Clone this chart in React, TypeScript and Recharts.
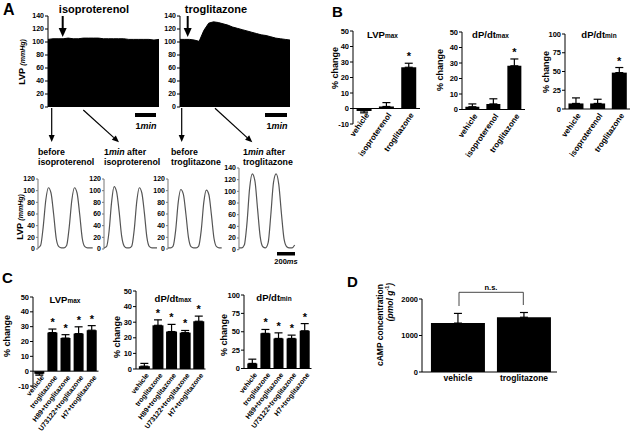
import React from "react";
import {
  AreaChart,
  Area,
  LineChart,
  Line,
  ComposedChart,
  Bar,
  ErrorBar,
  Scatter,
  XAxis,
  YAxis,
  ReferenceLine,
} from "recharts";

// ---- panel A: compressed LVP traces (upper envelope, mmHg)
const isoEnvelope = [104, 105, 105, 105, 106, 105, 105, 106, 106, 106, 106, 105, 105, 105, 105, 105, 104, 104, 104, 104, 104, 103, 104];
const trogEnvelope = [104, 104, 104, 103, 101, 118, 129, 131, 130, 128, 126, 123, 121, 119, 117, 115, 113, 111, 110, 108, 106, 105, 104, 103];

// ---- panel A: single beats (mmHg)
const beatsBeforeIso = [2, 6, 38, 84, 105, 96, 60, 18, 4, 2, 2, 6, 38, 84, 105, 96, 60, 18, 4, 2, 2, 2];
const beatsAfterIso = [2, 4, 30, 80, 107, 98, 64, 22, 5, 2, 2, 5, 34, 82, 105, 96, 62, 20, 4, 2, 2, 2];
const beatsBeforeTrog = [2, 2, 5, 32, 80, 102, 94, 60, 20, 4, 2, 2, 5, 32, 80, 101, 93, 58, 18, 4, 2, 2];
const beatsAfterTrog = [3, 3, 8, 45, 105, 130, 118, 70, 22, 5, 3, 12, 60, 115, 130, 112, 62, 18, 5, 3, 3, 8];

// ---- panel B
const bCats = ["vehicle", "isoproterenol", "troglitazone"];
const bSig = [false, false, true];
const bLvpMean = [-1.6, 1.3, 26.6];
const bLvpSem = [1.2, 2.5, 2.6];
const bDpMaxMean = [1.8, 3.6, 28.2];
const bDpMaxSem = [1.8, 3.3, 4.4];
const bDpMinMean = [7.4, 7.4, 48.5];
const bDpMinSem = [7.4, 5.6, 6.8];

// ---- panel C
const cCats = ["vehicle", "troglitazone", "H89+troglitazone", "U73122+troglitazone", "H7+troglitazone"];
const cSig = [false, true, true, true, true];
const cLvpMean = [-1.7, 26.0, 22.3, 25.3, 27.6];
const cLvpSem = [1.0, 2.4, 2.3, 4.6, 3.1];
const cDpMaxMean = [1.8, 28.0, 24.0, 23.3, 30.6];
const cDpMaxSem = [1.8, 3.5, 4.6, 1.4, 3.3];
const cDpMinMean = [6.9, 47.8, 40.9, 40.9, 51.3];
const cDpMinSem = [5.8, 5.3, 7.6, 4.5, 9.8];

// ---- panel D
const dCats = ["vehicle", "troglitazone"];
const dMean = [1340, 1500];
const dSem = [265, 130];

const FONT = '"Liberation Sans", Arial, Helvetica, sans-serif';
const YW = 30;
const PAD = 4;

function box(x0: number, y0: number, x1: number, y1: number, below: number) {
  return {
    style: { position: "absolute" as const, left: x0 - YW, top: y0 - PAD },
    width: YW + (x1 - x0) + PAD,
    height: PAD + (y1 - y0) + below,
  };
}

const tickFont = { fontSize: 7.5, fontWeight: 700, fill: "#000" };

// y tick drawn by hand so the colour stays black
function YTick(props: any) {
  const { x, y, payload, size } = props;
  return (
    <text x={x} y={y} dy="0.35em" textAnchor="end" fontSize={size ?? 7} fontWeight={700} fill="#000" stroke="none">
      {payload.value}
    </text>
  );
}

function TopTrace({ env, x0, x1 }: { env: number[]; x0: number; x1: number }) {
  const b = box(x0, 16, x1, 107, 2);
  const data = env.map((v, i) => ({ i, v }));
  return (
    <div style={b.style}>
      <AreaChart width={b.width} height={b.height} data={data} margin={{ top: PAD, right: PAD, left: 0, bottom: 2 }}>
        <XAxis dataKey="i" type="number" domain={[0, env.length - 1]} hide />
        <YAxis
          width={YW}
          domain={[0, 140]}
          ticks={[0, 20, 40, 60, 80, 100, 120, 140]}
          interval={0}
          allowDataOverflow
          stroke="#000"
          tickSize={3}
          tickMargin={1}
          axisLine={{ stroke: "#000" }}
          tickLine={{ stroke: "#000" }}
          tick={(p: any) => <YTick {...p} size={7} />}
        />
        <Area type="linear" dataKey="v" stroke="#000" fill="#000" fillOpacity={1} isAnimationActive={false} />
      </AreaChart>
    </div>
  );
}

function Beats({ vals, x0, x1, y0, y1, max }: { vals: number[]; x0: number; x1: number; y0: number; y1: number; max: number }) {
  const b = box(x0, y0, x1, y1, 2);
  const data = vals.map((v, i) => ({ i, v }));
  const ticks = [];
  for (let t = 0; t <= max; t += 20) ticks.push(t);
  return (
    <div style={b.style}>
      <LineChart width={b.width} height={b.height} data={data} margin={{ top: PAD, right: PAD, left: 0, bottom: 2 }}>
        <XAxis dataKey="i" type="number" domain={[0, vals.length - 1]} hide />
        <YAxis
          width={YW}
          domain={[0, max]}
          ticks={ticks}
          interval={0}
          allowDataOverflow
          stroke="#000"
          tickSize={2}
          tickMargin={1}
          axisLine={{ stroke: "#777" }}
          tickLine={{ stroke: "#777" }}
          tick={(p: any) => <YTick {...p} size={7} />}
        />
        <Line type="monotone" dataKey="v" stroke="#555" strokeWidth={1.2} dot={false} isAnimationActive={false} />
      </LineChart>
    </div>
  );
}

function SlantTick(props: any) {
  const { x, y, payload, lift, size, angle } = props;
  const tx = x + 3;
  const ty = y - lift + 5;
  return (
    <text x={tx} y={ty} dy="0.35em" transform={`rotate(${angle}, ${tx}, ${ty})`} textAnchor="end" fontSize={size} fontWeight={700} fill="#000">
      {payload.value}
    </text>
  );
}

function Star(p: any) {
  if (!p.payload || p.payload.star == null) return <g />;
  return (
    <text x={p.cx} y={p.cy - 3} textAnchor="middle" fontSize={11} fontWeight={700} fill="#000">
      *
    </text>
  );
}

type BarSpec = {
  cats: string[];
  mean: number[];
  sem: number[];
  sig: boolean[];
  x0: number;
  y0: number;
  x1: number;
  y1: number;
  domain: [number, number];
  ticks: number[];
  gap: string;
  size: number;
  angle: number;
  padLeft?: number;
};

function BarPanel(s: BarSpec) {
  const data = s.cats.map((name, i) => ({
    name,
    v: s.mean[i],
    err: s.mean[i] < 0 ? [s.sem[i], 0] : [0, s.sem[i]],
    star: s.sig[i] ? s.mean[i] + s.sem[i] : null,
  }));
  const below = 62;
  const b = box(s.x0, s.y0, s.x1, s.y1, below);
  const lift = ((0 - s.domain[0]) / (s.domain[1] - s.domain[0])) * (s.y1 - s.y0);
  return (
    <div style={b.style}>
      <ComposedChart width={b.width} height={b.height} data={data} barCategoryGap={s.gap} margin={{ top: PAD, right: PAD, left: 0, bottom: 0 }}>
        <XAxis
          dataKey="name"
          type="category"
          height={below}
          interval={0}
          axisLine={false}
          tickLine={false}
          tickSize={0}
          tickMargin={0}
          padding={{ left: s.padLeft ?? 0, right: 0 }}
          tick={(p: any) => <SlantTick {...p} lift={lift} size={s.size} angle={s.angle} />}
        />
        <YAxis
          width={YW}
          domain={s.domain}
          ticks={s.ticks}
          interval={0}
          allowDataOverflow
          stroke="#000"
          tickSize={3}
          tickMargin={1}
          axisLine={{ stroke: "#000" }}
          tickLine={{ stroke: "#000" }}
          tick={(p: any) => <YTick {...p} size={7.5} />}
        />
        <ReferenceLine y={0} stroke="#000" strokeWidth={1} />
        <Bar dataKey="v" fill="#000" isAnimationActive={false}>
          <ErrorBar dataKey="err" direction="y" width={4} stroke="#000" strokeWidth={1.2} isAnimationActive={false} />
        </Bar>
        <Scatter dataKey="star" shape={Star} isAnimationActive={false} />
      </ComposedChart>
    </div>
  );
}

function DTick(props: any) {
  const { x, y, payload } = props;
  return (
    <text x={x} y={y + 3} dy="0.71em" textAnchor="middle" fontSize={8.5} fontWeight={700} fill="#000">
      {payload.value}
    </text>
  );
}

function DPanel() {
  const data = dCats.map((name, i) => ({ name, v: dMean[i], err: [0, dSem[i]] }));
  const b = box(422, 299, 557, 372, 20);
  return (
    <div style={b.style}>
      <ComposedChart width={b.width} height={b.height} data={data} barCategoryGap="9%" margin={{ top: PAD, right: PAD, left: 0, bottom: 0 }}>
        <XAxis
          dataKey="name"
          height={20}
          interval={0}
          axisLine={{ stroke: "#000" }}
          tickLine={false}
          tickSize={0}
          tickMargin={0}
          padding={{ left: 3, right: 0 }}
          tick={DTick}
        />
        <YAxis
          width={YW}
          domain={[0, 2000]}
          ticks={[0, 1000, 2000]}
          interval={0}
          allowDataOverflow
          stroke="#000"
          tickSize={3}
          tickMargin={1}
          axisLine={{ stroke: "#000" }}
          tickLine={{ stroke: "#000" }}
          tick={(p: any) => <YTick {...p} size={7.5} />}
        />
        <Bar dataKey="v" fill="#000" isAnimationActive={false}>
          <ErrorBar dataKey="err" direction="y" width={4} stroke="#000" strokeWidth={1.2} isAnimationActive={false} />
        </Bar>
      </ComposedChart>
    </div>
  );
}

function Arrow({ x1, y1, x2, y2, w = 1.2, hl = 7, hw = 3 }: any) {
  const a = Math.atan2(y2 - y1, x2 - x1);
  const bx = x2 - hl * Math.cos(a);
  const by = y2 - hl * Math.sin(a);
  const px = -Math.sin(a) * hw;
  const py = Math.cos(a) * hw;
  return (
    <g>
      <line x1={x1} y1={y1} x2={bx} y2={by} stroke="#000" strokeWidth={w} />
      <polygon points={`${x2},${y2} ${bx + px},${by + py} ${bx - px},${by - py}`} fill="#000" />
    </g>
  );
}

function VLabel({ x, y, children, size = 9 }: any) {
  return (
    <text transform={`translate(${x},${y}) rotate(-90)`} textAnchor="middle" dominantBaseline="central" fontSize={size} fontWeight={700} fill="#000">
      {children}
    </text>
  );
}

function Title({ x, y, main, sub }: { x: number; y: number; main: string; sub: string }) {
  return (
    <text x={x} y={y} textAnchor="middle" fontSize={9.5} fontWeight={700} fill="#000">
      {main}
      <tspan fontSize={6.5}>{sub}</tspan>
    </text>
  );
}

function Overlay() {
  const t = { fontSize: 8.8, fontWeight: 700, fill: "#000" } as const;
  return (
    <svg width={640} height={438} style={{ position: "absolute", left: 0, top: 0, pointerEvents: "none" }}>
      {/* panel letters */}
      <text x={3} y={15} fontSize={16} fontWeight={700}>A</text>
      <text x={332} y={17} fontSize={15} fontWeight={700}>B</text>
      <text x={2} y={283} fontSize={15} fontWeight={700}>C</text>
      <text x={347} y={287} fontSize={15} fontWeight={700}>D</text>

      {/* panel A headings and arrows */}
      <text x={94} y={12.5} textAnchor="middle" fontSize={11} fontWeight={700}>isoproterenol</text>
      <text x={216} y={12.5} textAnchor="middle" fontSize={11} fontWeight={700}>troglitazone</text>
      <Arrow x1={62.7} y1={16} x2={62.7} y2={37} w={2} hl={9} hw={4} />
      <Arrow x1={187.7} y1={16} x2={187.7} y2={37} w={2} hl={9} hw={4} />
      <VLabel x={22} y={62}>
        LVP <tspan fontSize={7} fontStyle="italic">(mmHg)</tspan>
      </VLabel>

      <rect x={135} y={113} width={21} height={4} fill="#000" />
      <text x={146} y={129} textAnchor="middle" fontSize={9} fontWeight={700}>
        1<tspan fontStyle="italic">min</tspan>
      </text>
      <rect x={265} y={113} width={22} height={4} fill="#000" />
      <text x={277} y={129} textAnchor="middle" fontSize={9} fontWeight={700}>
        1<tspan fontStyle="italic">min</tspan>
      </text>

      <Arrow x1={51.7} y1={108} x2={51.7} y2={142} />
      <Arrow x1={83.3} y1={110} x2={119} y2={142.3} />
      <Arrow x1={181.7} y1={108} x2={181.7} y2={142} />
      <Arrow x1={215} y1={108.3} x2={252.3} y2={142.3} />

      <text x={38} y={155} {...t}>before</text>
      <text x={38} y={165} {...t}>isoproterenol</text>
      <text x={104} y={155} {...t}>1<tspan fontStyle="italic">min</tspan> after</text>
      <text x={104} y={165} {...t}>isoproterenol</text>
      <text x={171} y={155} {...t}>before</text>
      <text x={171} y={165} {...t}>troglitazone</text>
      <text x={243} y={155} {...t}>1<tspan fontStyle="italic">min</tspan> after</text>
      <text x={243} y={165} {...t}>troglitazone</text>

      <VLabel x={20} y={217}>
        LVP <tspan fontSize={7} fontStyle="italic">(mmHg)</tspan>
      </VLabel>
      <rect x={277} y={252} width={18} height={3.5} fill="#000" />
      <text x={286} y={264} textAnchor="middle" fontSize={7.5} fontWeight={700}>
        200<tspan fontStyle="italic">ms</tspan>
      </text>

      {/* panel B */}
      <Title x={382.5} y={38} main="LVP" sub="max" />
      <Title x={490.5} y={38} main="dP/dt" sub="max" />
      <Title x={599} y={38} main="dP/dt" sub="min" />
      <VLabel x={335} y={68}>% change</VLabel>
      <VLabel x={440} y={70}>% change</VLabel>
      <VLabel x={546} y={72}>% change</VLabel>

      {/* panel C */}
      <Title x={65} y={303} main="LVP" sub="max" />
      <Title x={173} y={302} main="dP/dt" sub="max" />
      <Title x={274} y={301} main="dP/dt" sub="min" />
      <VLabel x={7} y={336}>% change</VLabel>
      <VLabel x={117} y={337}>% change</VLabel>
      <VLabel x={224} y={335}>% change</VLabel>

      {/* panel D */}
      <VLabel x={380} y={325} size={8.5}>cAMP concentration</VLabel>
      <VLabel x={390} y={302} size={8.5}>
        <tspan fontStyle="italic">(pmol g</tspan>
        <tspan fontSize={5.5} dy={-3}>-1</tspan>
        <tspan fontStyle="italic" dy={3}>)</tspan>
      </VLabel>
      <path d="M459 306 V292.3 H523.3 V305" fill="none" stroke="#333" strokeWidth={0.9} />
      <text x={491} y={289.5} textAnchor="middle" fontSize={7.5} fontWeight={700}>n.s.</text>
    </svg>
  );
}

export default function App() {
  const slope = -55;
  return (
    <div
      style={{
        position: "absolute",
        left: 0,
        top: 0,
        width: 640,
        height: 438,
        background: "#fff",
        fontFamily: FONT,
        overflow: "hidden",
      }}
    >
      <TopTrace env={isoEnvelope} x0={48} x1={159} />
      <TopTrace env={trogEnvelope} x0={180} x1={290} />

      <Beats vals={beatsBeforeIso} x0={38.3} x1={93} y0={179.3} y1={249.3} max={120} />
      <Beats vals={beatsAfterIso} x0={104} x1={157} y0={179.3} y1={249.3} max={120} />
      <Beats vals={beatsBeforeTrog} x0={168.3} x1={222} y0={179.3} y1={249.3} max={120} />
      <Beats vals={beatsAfterTrog} x0={239.3} x1={295} y0={168.3} y1={250} max={140} />

      <BarPanel cats={bCats} mean={bLvpMean} sem={bLvpSem} sig={bSig} x0={353} y0={31} x1={420} y1={124}
        domain={[-10, 50]} ticks={[-10, 0, 10, 20, 30, 40, 50]} gap="16%" size={8} angle={slope} />
      <BarPanel cats={bCats} mean={bDpMaxMean} sem={bDpMaxSem} sig={bSig} x0={462} y0={31.5} x1={525} y1={109}
        domain={[0, 50]} ticks={[0, 10, 20, 30, 40, 50]} gap="16%" size={8} angle={slope} />
      <BarPanel cats={bCats} mean={bDpMinMean} sem={bDpMinSem} sig={bSig} x0={565} y0={34} x1={630} y1={109}
        domain={[0, 100]} ticks={[0, 25, 50, 75, 100]} gap="16%" size={8} angle={slope} />

      <BarPanel cats={cCats} mean={cLvpMean} sem={cLvpSem} sig={cSig} x0={32.5} y0={296.5} x1={98} y1={385.5}
        domain={[-10, 50]} ticks={[-10, 0, 10, 20, 30, 40, 50]} gap="10%" size={7} angle={-52} />
      <BarPanel cats={cCats} mean={cDpMaxMean} sem={cDpMaxSem} sig={cSig} x0={135.5} y0={290.5} x1={205} y1={368.5}
        domain={[0, 50]} ticks={[0, 10, 20, 30, 40, 50]} gap="10%" size={7} angle={-52} padLeft={1.5} />
      <BarPanel cats={cCats} mean={cDpMinMean} sem={cDpMinSem} sig={cSig} x0={243.5} y0={295} x1={311} y1={368.5}
        domain={[0, 100]} ticks={[0, 25, 50, 75, 100]} gap="10%" size={7} angle={-52} padLeft={2} />

      <DPanel />
      <Overlay />
    </div>
  );
}
